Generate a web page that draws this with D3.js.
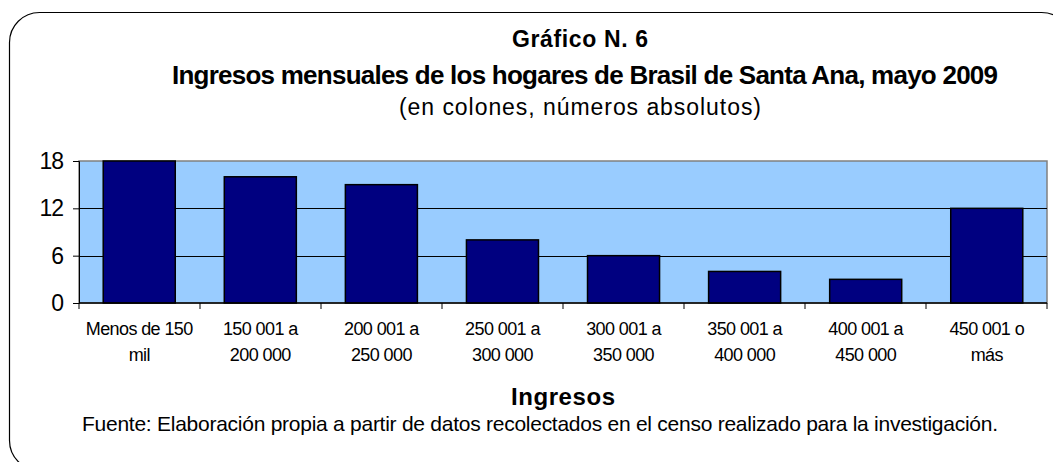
<!DOCTYPE html>
<html>
<head>
<meta charset="utf-8">
<script src="https://cdn.jsdelivr.net/npm/d3@7"></script>
<style>
  html, body { margin: 0; padding: 0; background: #fff; }
  svg { display: block; font-family: "Liberation Sans", Arial, sans-serif; }
</style>
</head>
<body>
<svg id="chart" width="1053" height="462"></svg>
<script>
const categories = [
  ["Menos de 150", "mil"],
  ["150 001 a", "200 000"],
  ["200 001 a", "250 000"],
  ["250 001 a", "300 000"],
  ["300 001 a", "350 000"],
  ["350 001 a", "400 000"],
  ["400 001 a", "450 000"],
  ["450 001 o", "más"]
];
const hogares = [18, 16, 15, 8, 6, 4, 3, 12];
const yTicks = [0, 6, 12, 18];

const titleLines = [
  "Gráfico N. 6",
  "Ingresos mensuales de los hogares de Brasil de Santa Ana, mayo 2009",
  "(en colones, números absolutos)"
];
const xTitle = "Ingresos";
const source = "Fuente: Elaboración propia a partir de datos recolectados en el censo realizado para la investigación.";

const width = 1053, height = 462;
const margin = {left: 79, right: 6, top: 161, bottom: 159};

const svg = d3.select("#chart");

// rounded frame, runs off the right and bottom edges like the original
svg.append("rect")
  .attr("x", 9.5).attr("y", 12.5)
  .attr("width", 1062).attr("height", 458)
  .attr("rx", 30).attr("ry", 30)
  .attr("fill", "#fff").attr("stroke", "#000").attr("stroke-width", 1.2);

const x = d3.scaleBand()
  .domain(d3.range(categories.length))
  .range([margin.left, width - margin.right])
  .paddingInner(0.405)
  .paddingOuter(0.2);

const y = d3.scaleLinear()
  .domain([0, 18])
  .range([height - margin.bottom, margin.top]);

const plotW = width - margin.right - margin.left;

// plot area
svg.append("rect")
  .attr("x", margin.left).attr("y", y(18))
  .attr("width", plotW).attr("height", y(0) - y(18))
  .attr("fill", "#99ccff")
  .attr("stroke", "#808080").attr("stroke-width", 1.5);

svg.append("g")
  .selectAll("line")
  .data(yTicks.filter(d => d > 0 && d < 18))
  .join("line")
  .attr("x1", margin.left).attr("x2", width - margin.right)
  .attr("y1", d => Math.round(y(d)) + 0.5).attr("y2", d => Math.round(y(d)) + 0.5)
  .attr("stroke", "#000").attr("stroke-width", 1);

// bars
svg.append("g")
  .selectAll("rect")
  .data(hogares)
  .join("rect")
  .attr("x", (d, i) => x(i))
  .attr("y", d => y(d))
  .attr("width", x.bandwidth())
  .attr("height", d => y(0) - y(d))
  .attr("fill", "#000080")
  .attr("stroke", "#000").attr("stroke-width", 1.5);

// y axis
const yAxis = svg.append("g")
  .attr("transform", `translate(${margin.left},0)`)
  .call(d3.axisLeft(y).tickValues(yTicks).tickSize(6).tickPadding(10));
yAxis.select(".domain").attr("stroke", "#000");
yAxis.selectAll(".tick line").attr("stroke", "#000");
yAxis.selectAll(".tick text")
  .attr("font-size", 23).attr("fill", "#000")
  .attr("font-family", "Liberation Sans, Arial, sans-serif")
  .attr("letter-spacing", -1);

// x axis: ticks sit between categories
const bounds = d3.range(categories.length + 1).map(i => margin.left + i * plotW / categories.length);
const xAxis = svg.append("g");
xAxis.append("line")
  .attr("x1", margin.left).attr("x2", width - margin.right)
  .attr("y1", y(0)).attr("y2", y(0))
  .attr("stroke", "#000").attr("stroke-width", 1.5);
xAxis.selectAll("line.tk")
  .data(bounds)
  .join("line")
  .attr("class", "tk")
  .attr("x1", d => d).attr("x2", d => d)
  .attr("y1", y(0)).attr("y2", y(0) + 6)
  .attr("stroke", "#000");

const labels = svg.append("g")
  .attr("font-size", 18)
  .attr("letter-spacing", -0.6)
  .attr("text-anchor", "middle");
labels.selectAll("text")
  .data(categories)
  .join("text")
  .attr("x", (d, i) => x(i) + x.bandwidth() / 2)
  .attr("y", y(0) + 32)
  .each(function(d) {
    d3.select(this).selectAll("tspan")
      .data(d)
      .join("tspan")
      .attr("x", d3.select(this).attr("x"))
      .attr("dy", (t, j) => j === 0 ? 0 : 26)
      .text(t => t);
  });

// titles
const titleSpecs = [
  {x: 580, y: 47, size: 23, weight: "bold", len: 136},
  {x: 585, y: 84, size: 26, weight: "bold", len: 826},
  {x: 580, y: 115, size: 23, weight: "normal", len: 362}
];
svg.append("g")
  .attr("text-anchor", "middle")
  .selectAll("text")
  .data(titleLines)
  .join("text")
  .attr("x", (d, i) => titleSpecs[i].x)
  .attr("y", (d, i) => titleSpecs[i].y)
  .attr("font-size", (d, i) => titleSpecs[i].size)
  .attr("font-weight", (d, i) => titleSpecs[i].weight)
  .attr("textLength", (d, i) => titleSpecs[i].len)
  .attr("lengthAdjust", "spacing")
  .text(d => d);

svg.append("text")
  .attr("x", 563).attr("y", 405)
  .attr("text-anchor", "middle")
  .attr("font-size", 24).attr("font-weight", "bold")
  .attr("textLength", 104).attr("lengthAdjust", "spacing")
  .text(xTitle);

svg.append("text")
  .attr("x", 540).attr("y", 431)
  .attr("text-anchor", "middle")
  .attr("font-size", 21)
  .attr("textLength", 916).attr("lengthAdjust", "spacing")
  .text(source);
</script>
</body>
</html>
